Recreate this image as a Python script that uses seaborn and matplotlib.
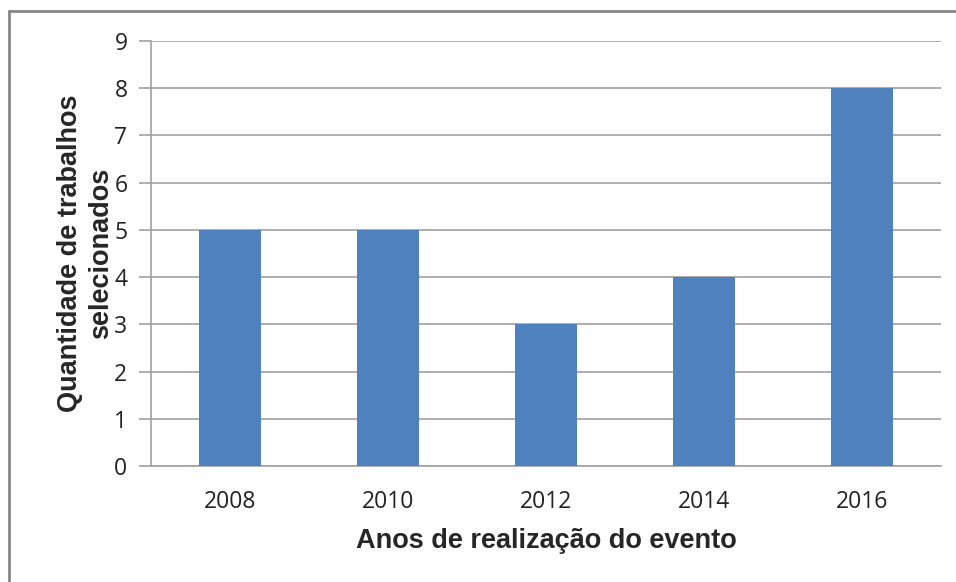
import matplotlib
matplotlib.use("Agg")
import matplotlib.pyplot as plt
import seaborn as sns
import pandas as pd
from matplotlib.patches import Rectangle

# Dados do gráfico
anos = ["2008", "2010", "2012", "2014", "2016"]
quantidades = [5, 5, 3, 4, 8]

sns.set_style("white")
plt.rcParams["font.family"] = ["Open Sans", "DejaVu Sans"]

df = pd.DataFrame({"ano": anos, "qtd": quantidades})

fig = plt.figure(figsize=(9.56, 5.82), dpi=100)
ax = fig.add_axes([151 / 956, 1 - 466 / 582, 790 / 956, 425 / 582])

sns.barplot(data=df, x="ano", y="qtd", color="#4F81BD", saturation=1,
            width=0.39, linewidth=0, ax=ax, zorder=3)

ax.set_ylim(0, 9)
ax.set_yticks(range(0, 10))
ax.set_xlim(-0.5, 4.5)
ax.yaxis.grid(True, color="#A0A0A0", linewidth=1.2, zorder=0)
ax.set_axisbelow(True)

for s in ["top", "right"]:
    ax.spines[s].set_visible(False)
ax.spines["left"].set_color("#A0A0A0")
ax.spines["bottom"].set_color("#A0A0A0")
ax.spines["left"].set_linewidth(1.2)
ax.spines["bottom"].set_linewidth(1.2)

ax.tick_params(axis="y", length=9, color="#A0A0A0", width=1.2, labelsize=16.5,
               labelcolor="#222222", pad=8, left=True)
ax.tick_params(axis="x", length=0, labelsize=16.5, labelcolor="#222222", pad=17)

ax.set_xlabel("Anos de realização do evento", fontsize=19.5, fontweight="bold",
              family="Liberation Sans", labelpad=10)
ax.set_ylabel("Quantidade de trabalhos\nselecionados", fontsize=19.5,
              fontweight="bold", family="Liberation Sans", labelpad=0,
              linespacing=1.25)

# moldura cinza do gráfico
fig.patches.append(Rectangle((9 / 956, -0.1), 1.1, 1 - 11 / 582 + 0.1,
                             transform=fig.transFigure, fill=False,
                             edgecolor="#888888", linewidth=2))

fig.savefig("out.png", dpi=100)
